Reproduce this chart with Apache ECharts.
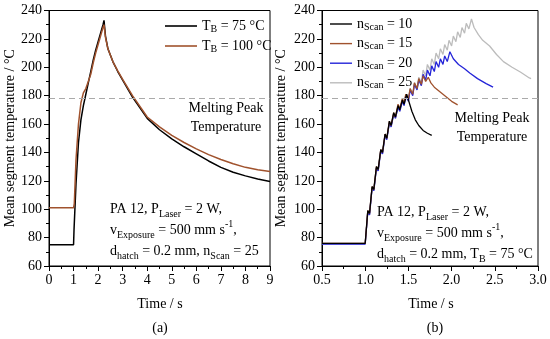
<!DOCTYPE html>
<html>
<head>
<meta charset="utf-8">
<script src="https://cdn.jsdelivr.net/npm/echarts@6/dist/echarts.min.js"></script>
<style>html,body{margin:0;padding:0;background:#fff}#c{width:550px;height:339px}</style>
</head>
<body>
<div id="c"></div>
<script>
// ---------- data ----------
const MELT_PEAK = 178;

const legendA = ['T_B = 75 °C', 'T_B = 100 °C'];
const legendB = ['n_Scan = 10', 'n_Scan = 15', 'n_Scan = 20', 'n_Scan = 25'];
const xTitle = 'Time / s';
const yTitle = 'Mean segment temperature / °C';

// panel (a): [time s, temperature °C]
const tb75 = [[0,75],[1.0,75],[1.02,86],[1.1,118],[1.2,147],[1.3,163],[1.4,173],[1.5,181],[1.6,189],[1.7,197],[1.8,205],[1.9,212],[2.0,218],[2.1,224],[2.2,230],[2.24,233],
  [2.3,222],[2.4,213],[2.6,204],[2.8,197],[3.0,191],[3.4,179],[4.0,164],[4.5,156],[5.0,149.5],[5.5,144],[6.0,139],[6.5,134],[7.0,129.5],[7.5,126],[8.0,123.5],[8.5,121.3],[9.0,119.5]];
const tb100 = [[0,101],[1.0,101],[1.03,104],[1.1,135],[1.2,160],[1.3,175],[1.4,182],[1.5,185],[1.6,190],[1.7,195],[1.8,203],[1.9,210],[2.0,216],[2.1,222],[2.2,228],[2.24,230],
  [2.3,221],[2.4,213],[2.6,204],[2.8,197.5],[3.0,191.5],[3.4,180],[4.0,165],[4.5,158],[5.0,152],[5.5,147],[6.0,142.5],[6.5,138.5],[7.0,135],[7.5,132],[8.0,129.5],[8.5,127.8],[9.0,126.5]];

// panel (b)
const nScan10 = [[0.5,76],[1.0,76],[1.03,99],[1.05,97],[1.08,116],[1.10,114],[1.13,130],[1.15,128],[1.18,142],[1.20,140],[1.23,153],[1.25,150],[1.28,162],[1.30,159],[1.33,168],[1.35,165],[1.38,173],[1.40,170],[1.43,177],[1.45,174],[1.48,181],
  [1.51,175],[1.54,169],[1.58,163],[1.62,159],[1.67,155.5],[1.72,153.5],[1.77,152]];
const nScan15 = [[0.5,76],[1.0,76],[1.03,99],[1.05,97],[1.08,116],[1.10,114],[1.13,130],[1.15,128],[1.18,142],[1.20,140],[1.23,153],[1.25,150],[1.28,162],[1.30,159],[1.33,168],[1.35,165],[1.38,174],[1.40,171],[1.43,178],[1.45,175],[1.47,181],[1.50,178],[1.52,185],[1.55,181],[1.57,189],[1.60,185],[1.62,192],[1.65,188],[1.67,194],[1.70,190],[1.73,193],
  [1.76,189],[1.80,186],[1.85,183.5],[1.90,181],[1.95,178.5],[2.00,176],[2.07,173.5]];
const nScan20 = [[0.5,75.5],[1.0,75.5],[1.03,98],[1.05,96],[1.08,115],[1.10,113],[1.13,129],[1.15,127],[1.18,141],[1.20,139],[1.23,152],[1.25,149],[1.28,161],[1.30,158],[1.33,167],[1.35,164],[1.38,172],[1.40,169],[1.43,176],[1.45,173],[1.47,180],[1.50,176],[1.52,184],[1.55,180],[1.57,188],[1.60,184],[1.62,191],[1.65,187],[1.67,195],[1.70,191],[1.72,198],[1.75,194],[1.77,201],[1.80,197],[1.82,204],[1.85,200],[1.87,206],[1.90,202],[1.92,208],[1.95,204],[1.98,211],
  [2.02,206],[2.08,202],[2.15,199],[2.21,196],[2.30,192],[2.40,188.5],[2.48,186]];
const nScan25 = [[0.5,75.5],[1.0,75.5],[1.03,98],[1.05,96],[1.08,115],[1.10,113],[1.13,129],[1.15,127],[1.18,141],[1.20,139],[1.23,152],[1.25,150],[1.28,161],[1.30,158],[1.33,167],[1.35,164],[1.38,172],[1.40,169],[1.43,176],[1.45,173],[1.47,181],[1.50,177],[1.52,185],[1.55,181],[1.57,189],[1.60,185],[1.62,193],[1.65,189],[1.67,198],[1.70,194],[1.72,202],[1.75,198],[1.77,206],[1.80,202],[1.82,210],[1.85,206],[1.87,213],[1.90,209],[1.92,216],[1.95,212],[1.97,219],[2.00,215],[2.02,222],[2.05,218],[2.07,225],[2.10,221],[2.12,228],[2.15,224],[2.17,231],[2.20,227],[2.23,234],
  [2.26,228],[2.31,223],[2.36,219],[2.44,215],[2.52,209],[2.60,204],[2.70,200],[2.80,196.5],[2.90,192.5],[2.92,192]];

// ---------- chart ----------
const FONT = 'Liberation Serif';
const BLACK = '#000';
const rich = {
  n: {fontSize: 14, fontFamily: FONT, color: BLACK, lineHeight: 21},
  s: {fontSize: 10, fontFamily: FONT, color: BLACK, lineHeight: 11, verticalAlign: 'bottom'},
  p: {fontSize: 10, fontFamily: FONT, color: BLACK, lineHeight: 11, verticalAlign: 'top'}
};
const legRich = {
  n: {fontSize: 14, fontFamily: FONT, color: BLACK, lineHeight: 16},
  s: {fontSize: 10, fontFamily: FONT, color: BLACK, lineHeight: 9, verticalAlign: 'bottom'}
};
function subFmt(name) {
  const m = name.split(' = ');
  const parts = m[0].split('_');
  return '{n|' + parts[0] + '}{s|' + parts[1] + '}{n| = ' + m[1] + '}';
}

function xAxis(gi, min, max, interval, fmt) {
  return {
    type: 'value', gridIndex: gi, min, max, interval,
    axisLine: {show: true, onZero: false, lineStyle: {color: BLACK, width: 1}},
    axisTick: {show: true, inside: false, length: 5, lineStyle: {color: BLACK}},
    minorTick: {show: true, splitNumber: 2, length: 3, lineStyle: {color: BLACK}},
    splitLine: {show: false},
    axisLabel: {fontFamily: FONT, fontSize: 14, color: BLACK, margin: 7, formatter: fmt}
  };
}
function yAxis(gi, gap) {
  return {
    type: 'value', gridIndex: gi, min: 60, max: 240, interval: 20,
    name: yTitle, nameLocation: 'middle', nameGap: gap,
    nameTextStyle: {fontFamily: FONT, fontSize: 14, color: BLACK, fontWeight: 400},
    axisLine: {show: true, onZero: false, lineStyle: {color: BLACK, width: 1}},
    axisTick: {show: true, inside: false, length: 5, lineStyle: {color: BLACK}},
    minorTick: {show: true, splitNumber: 2, length: 3, lineStyle: {color: BLACK}},
    splitLine: {show: false},
    axisLabel: {fontFamily: FONT, fontSize: 14, color: BLACK, margin: 7}
  };
}
const melt = {
  silent: true, symbol: 'none', label: {show: false},
  lineStyle: {color: '#aaaaaa', type: [6, 4], width: 1.2},
  data: [{yAxis: MELT_PEAK}]
};
function line(name, data, color, xi, width, extra) {
  return Object.assign({
    type: 'line', name, data, xAxisIndex: xi, yAxisIndex: xi,
    symbol: 'none', showSymbol: false, animation: false,
    lineStyle: {color, width}, itemStyle: {color}
  }, extra || {});
}
function txt(x, y, text, extra) {
  return {type: 'text', x, y, style: Object.assign({text, fill: BLACK, font: '14px ' + FONT, align: 'center', verticalAlign: 'middle'}, extra || {})};
}

const COL = {black: '#000000', brown: '#a0522d', blue: '#2424d8', gray: '#bcbcbc'};

const option = {
  animation: false,
  backgroundColor: '#fff',
  grid: [
    {left: 49, top: 10.5, width: 221, height: 255.5, show: true, borderColor: BLACK, borderWidth: 1},
    {left: 322, top: 10.5, width: 216, height: 255.5, show: true, borderColor: BLACK, borderWidth: 1}
  ],
  xAxis: [xAxis(0, 0, 9, 1), xAxis(1, 0.5, 3.0, 0.5, v => v.toFixed(1))],
  yAxis: [yAxis(0, 32), yAxis(1, 34)],
  legend: [
    {data: legendA, left: 160, top: 14, orient: 'vertical', icon: 'rect', itemWidth: 32, itemHeight: 1.6, itemGap: 5,
      formatter: subFmt, textStyle: {rich: legRich}},
    {data: legendB, left: 325, top: 12, orient: 'vertical', icon: 'rect', itemWidth: 22, itemHeight: 1.4, itemGap: 4.6,
      formatter: subFmt, textStyle: {rich: legRich}}
  ],
  series: [
    line(legendA[0], tb75, COL.black, 0, 1.5, {markLine: melt}),
    line(legendA[1], tb100, COL.brown, 0, 1.5),
    line(legendB[3], nScan25, COL.gray, 1, 1.3, {markLine: melt}),
    line(legendB[2], nScan20, COL.blue, 1, 1.3),
    line(legendB[1], nScan15, COL.brown, 1, 1.3),
    line(legendB[0], nScan10, COL.black, 1, 1.3)
  ],
  graphic: [
    {type: 'text', x: 110, y: 198.5, style: {text: '{n|PA 12, P}{s|Laser}{n| = 2 W,}\n{n|v}{s|Exposure}{n| = 500 mm s}{p|-1}{n|,}\n{n|d}{s|hatch}{n| = 0.2 mm, n}{s|Scan}{n| = 25}', rich, fill: BLACK, font: '14px ' + FONT, verticalAlign: 'top'}},
    {type: 'text', x: 377, y: 201.5, style: {text: '{n|PA 12, P}{s|Laser}{n| = 2 W,}\n{n|v}{s|Exposure}{n| = 500 mm s}{p|-1}{n|,}\n{n|d}{s|hatch}{n| = 0.2 mm, T}{s|B}{n| = 75 °C}', rich, fill: BLACK, font: '14px ' + FONT, verticalAlign: 'top'}},
    txt(226, 98.5, 'Melting Peak\nTemperature', {verticalAlign: 'top', lineHeight: 19}),
    txt(492, 108.5, 'Melting Peak\nTemperature', {verticalAlign: 'top', lineHeight: 19}),
    txt(160, 304, xTitle),
    txt(431, 304, xTitle),
    txt(160, 328, '(a)'),
    txt(435, 328, '(b)')
  ]
};
const chart = echarts.init(document.getElementById('c'), null, {renderer: 'canvas'});
chart.setOption(option);
</script>
</body>
</html>
